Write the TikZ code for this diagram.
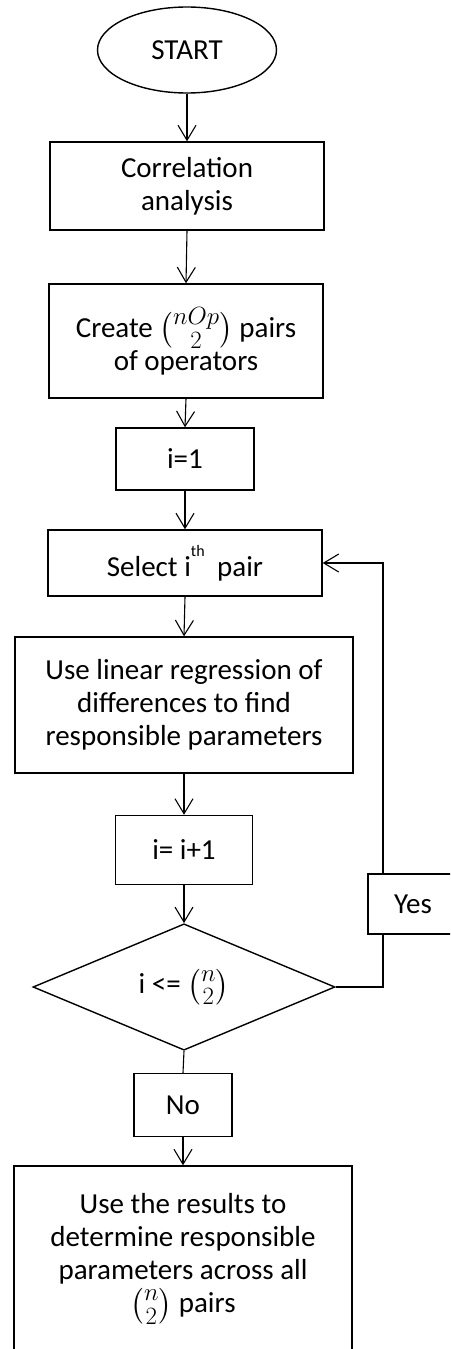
\documentclass[tikz,border=0pt]{standalone}
\usepackage{amsmath}
\usepackage{graphicx}
\usepackage{fontspec}
\setmainfont{Carlito}
\usetikzlibrary{shapes.geometric,arrows.meta}
\newcommand{\bigbin}[2]{\raisebox{-1pt}{\scalebox{1.2}{$\binom{#1}{#2}$}}}
\tikzset{
  box/.style={draw, line width=1.4pt, rectangle, inner sep=0pt, align=center,
              font=\fontsize{29}{33}\selectfont},
  arr/.style={line width=1.1pt, -{Straight Barb[length=15pt,width=18pt,line width=1.1pt]}},
  ln/.style={line width=1.1pt}
}
\begin{document}
\begin{tikzpicture}[x=1pt,y=-1pt]
\useasboundingbox (0,0) rectangle (450,1349);
\begin{scope}
\clip (0,0) rectangle (450,1349);
\node[box, ellipse, minimum width=179pt, minimum height=86pt] (start) at (187,50) {START};
\node[box, minimum width=274pt, minimum height=88pt] (corr) at (187,186) {Correlation\\analysis};
\node[box, minimum width=274pt, minimum height=114pt] (create) at (186,341) {Create \bigbin{nOp}{2} pairs\\of operators};
\node[box, minimum width=138pt, minimum height=62pt] (i1) at (185,459) {i=1};
\node[box, minimum width=274pt, minimum height=66pt] (sel) at (185,563) {Select i\raisebox{20pt}{\fontsize{16}{16}\selectfont th}\hspace{6pt} pair};
\node[box, minimum width=338pt, minimum height=136pt] (lin) at (184,705) {Use linear regression of\\differences to find\\responsible parameters};
\node[box, minimum width=137pt, minimum height=69pt] (inc) at (184,850) {i= i+1};
\node[box, diamond, minimum width=302pt, minimum height=120pt] (dec) at (184,987) {i <= \bigbin{n}{2}};
\node[box, minimum width=90pt, minimum height=60pt] (yes) at (413,904) {Yes};
\node[box, minimum width=98pt, minimum height=63pt] (no) at (183,1105) {No};
\node[box, minimum width=338pt, minimum height=186pt] (res) at (183,1259) {Use the results to\\determine responsible\\parameters across all\\\bigbin{n}{2} pairs};
\draw[arr] (start.south) -- (corr.north);
\draw[arr] (corr.south) -- (create.north);
\draw[arr] (create.south) -- (i1.north);
\draw[arr] (i1.south) -- (sel.north);
\draw[arr] (sel.south) -- (lin.north);
\draw[arr] (lin.south) -- (inc.north);
\draw[arr] (inc.south) -- (dec.north);
\draw[ln] (dec.south) -- (no.north);
\draw[arr] (no.south) -- (res.north);
\draw[ln] (dec.east) -| ([xshift=-30pt]yes.south);
\draw[arr] ([xshift=-30pt]yes.north) |- (sel.east);
\end{scope}
\end{tikzpicture}
\end{document}
